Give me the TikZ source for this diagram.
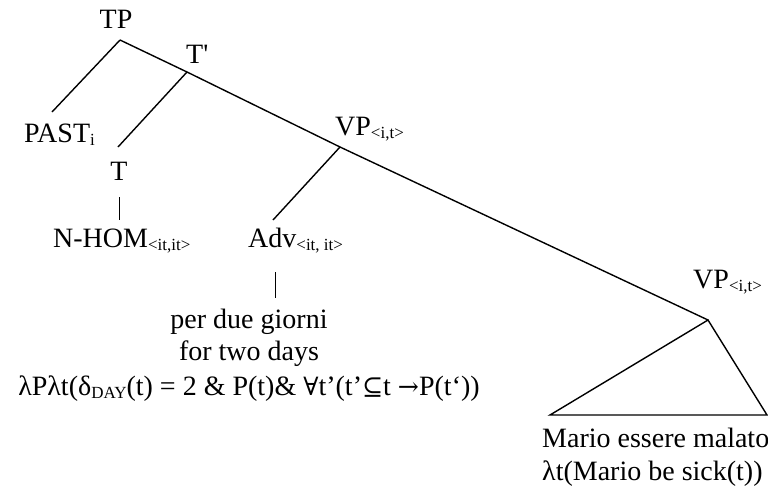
\documentclass[tikz,border=0pt]{standalone}
\usepackage{fontspec}
\setmainfont{Liberation Serif}
\newfontfamily\symf[Scale=0.9]{DejaVu Serif}
\usetikzlibrary{positioning}
\newcommand{\catfont}{\fontsize{28}{32}\selectfont}
\newcommand{\typ}[1]{\raisebox{-3pt}{\fontsize{17}{17}\selectfont #1}}
\tikzset{
  cat/.style={inner sep=0pt, anchor=base west, font=\catfont},
  word/.style={inner sep=0pt, anchor=base, font=\catfont},
  branch/.style={line width=1.4pt},
  stem/.style={line width=0.9pt},
}

\begin{document}
\begin{tikzpicture}[x=1pt, y=-1pt]
  \useasboundingbox (0,0) rectangle (768,496);

  % Labels
  \node[word] (tp) at (116,28) {TP};
  \node[cat] (tbar) at (186,63) {T\textquotesingle};
  \node[cat] (past) at (24,142) {PAST\typ{i}};
  \node[word] (t) at (119,180) {T};
  \node[cat] (nhom) at (53,247) {N-HOM\typ{<it,it>}};
  \node[cat] (vp) at (335,135) {VP\typ{<i,t>}};
  \node[cat] (adv) at (248,247) {Adv\typ{<it, it>}};
  \node[cat] (vpmal) at (693,288) {VP\typ{<i,t>}};

  % Adverb and its meaning
  \node[word] (ita) at (249,328) {per due giorni};
  \node[word] (eng) at (249,360) {for two days};
  \node[word] (sem) at (249,395)
    {λPλt(δ\typ{DAY}(t) = 2 \& P(t)\& {\symf ∀}t’(t’{\symf ⊆}t {\symf →}P(t‘))};

  % Lower VP content
  \node[cat] (mario) at (542,447) {Mario essere malato};
  \node[cat] (sick) at (542,480) {λt(Mario be sick(t))};

  % Branch points
  \coordinate (tp-a) at (120,40);
  \coordinate (past-a) at (52,112);
  \coordinate (tbar-a) at (187,72);
  \coordinate (t-a) at (118,147);
  \coordinate (vp-a) at (340,147);
  \coordinate (adv-a) at (273,220);
  \coordinate (vpmal-a) at (708,320);
  \coordinate (tri-l) at (550,415);
  \coordinate (tri-r) at (767,415);

  \foreach \a/\b in {tp-a/past-a, tp-a/tbar-a, tbar-a/t-a, tbar-a/vp-a,
                     vp-a/adv-a, vp-a/vpmal-a} {
    \draw[branch] (\a) -- (\b);
  }
  \draw[branch, line join=miter] (vpmal-a) -- (tri-l) -- (tri-r) -- cycle;

  % Unary stems
  \draw[stem] ([yshift=-17pt]t.base) -- ([yshift=-40pt]t.base);
  \draw[stem] ([xshift=27pt, yshift=-25pt]adv.base west) -- ([xshift=27pt, yshift=-51pt]adv.base west);
\end{tikzpicture}
\end{document}
